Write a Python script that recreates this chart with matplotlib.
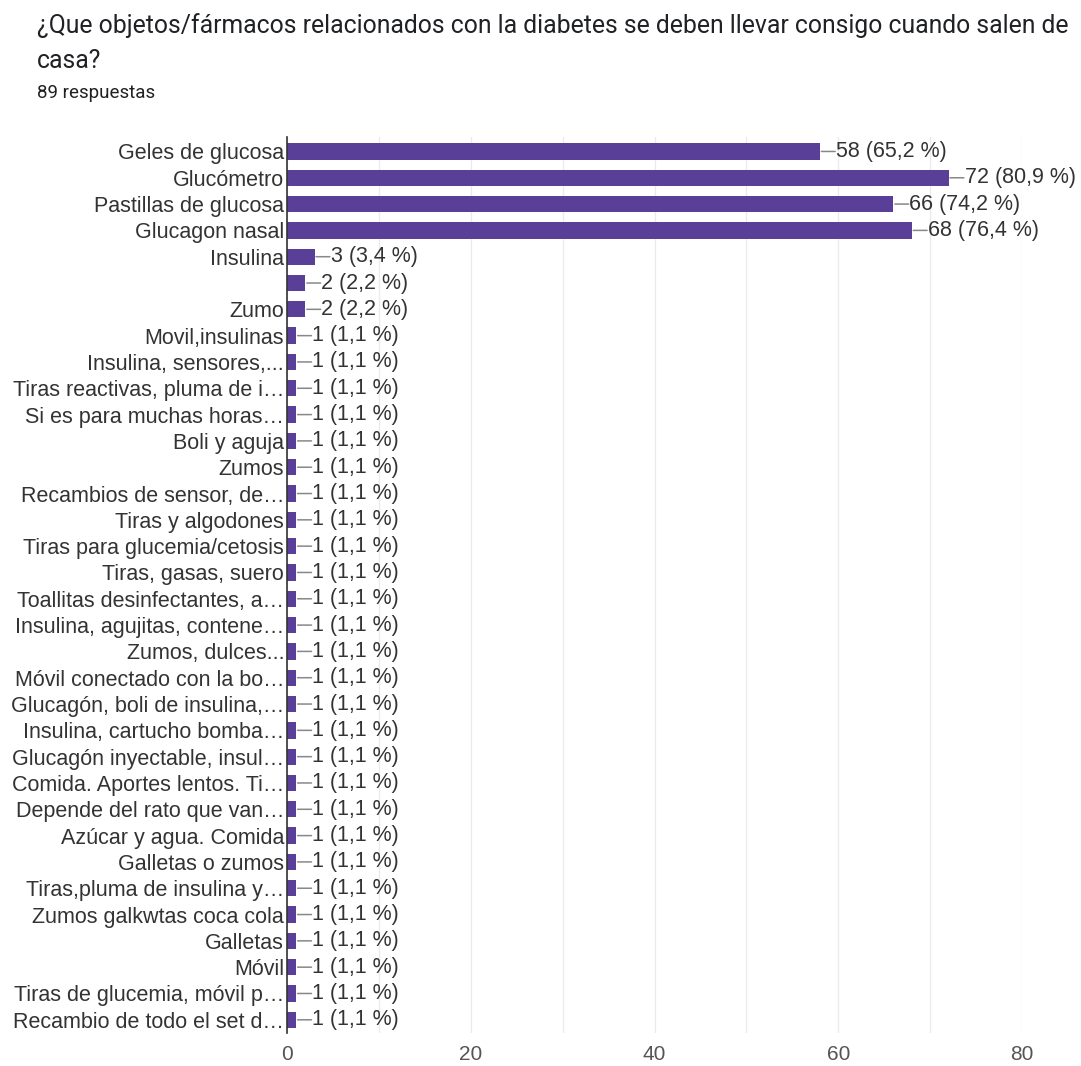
import matplotlib
matplotlib.use('Agg')
import matplotlib.pyplot as plt
import numpy as np

TITLE_LINES = ['¿Que objetos/fármacos relacionados con la diabetes se deben llevar consigo cuando salen de',
               'casa?']
SUBTITLE = '89 respuestas'
TOTAL = 89

categories = [
    'Geles de glucosa', 'Glucómetro', 'Pastillas de glucosa', 'Glucagon nasal',
    'Insulina', '', 'Zumo', 'Movil,insulinas', 'Insulina, sensores,...',
    'Tiras reactivas, pluma de i…', 'Si es para muchas horas…', 'Boli y aguja',
    'Zumos', 'Recambios de sensor, de…', 'Tiras y algodones',
    'Tiras para glucemia/cetosis', 'Tiras, gasas, suero',
    'Toallitas desinfectantes, a…', 'Insulina, agujitas, contene…',
    'Zumos, dulces...', 'Móvil conectado con la bo…',
    'Glucagón, boli de insulina,…', 'Insulina, cartucho bomba…',
    'Glucagón inyectable, insul…', 'Comida. Aportes lentos. Ti…',
    'Depende del rato que van…', 'Azúcar y agua. Comida', 'Galletas o zumos',
    'Tiras,pluma de insulina y…', 'Zumos galkwtas coca cola', 'Galletas',
    'Móvil', 'Tiras de glucemia, móvil p…', 'Recambio de todo el set d…',
]
counts = [58, 72, 66, 68, 3, 2, 2] + [1] * 27

BAR = '#5a3f99'
TEXT = '#333333'
FS = 15.5

fig = plt.figure(figsize=(10.81, 10.66), dpi=100)
ax = fig.add_axes([0.2655, 0.031, 0.680, 0.8405])

y = np.arange(len(categories))
ax.barh(y, counts, height=0.62, color=BAR, zorder=3)

# value labels with a short leader line
for yi, c in zip(y, counts):
    pct = f'{c / TOTAL * 100:.1f}'.replace('.', ',')
    ax.annotate('', xy=(c, yi), xytext=(11, 0), textcoords='offset points',
                xycoords='data',
                arrowprops=dict(arrowstyle='-', color='#888888', lw=1.1,
                                shrinkA=0, shrinkB=1))
    ax.annotate(f'{c} ({pct} %)', xy=(c, yi), xytext=(11.5, 0),
                textcoords='offset points', va='center', ha='left',
                fontsize=FS, color=TEXT, family='Liberation Sans')

ax.set_yticks(y)
ax.set_yticklabels(categories, fontsize=FS, color=TEXT, family='Liberation Sans')
ax.set_ylim(33.5, -0.55)
ax.set_xlim(0, 80)
ax.set_xticks([0, 20, 40, 60, 80])
ax.set_xticks([10, 30, 50, 70], minor=True)
ax.tick_params(axis='x', which='both', length=0, pad=9, labelsize=15,
               labelcolor='#555555')
ax.tick_params(axis='y', length=0, pad=2)
for lbl in ax.get_xticklabels():
    lbl.set_family('Liberation Sans')

ax.grid(axis='x', which='both', color='#ebebeb', lw=1, zorder=0)
ax.spines['left'].set_color('#333333')
ax.spines['left'].set_linewidth(1.2)
ax.spines['left'].set_zorder(4)
for s in ('top', 'bottom', 'right'):
    ax.spines[s].set_visible(False)

fig.text(0.034, 1 - 33 / 1066, TITLE_LINES[0], fontsize=17.8, color='#202124',
         family='Roboto', va='baseline', ha='left')
fig.text(0.034, 1 - 68 / 1066, TITLE_LINES[1], fontsize=17.8, color='#202124',
         family='Roboto', va='baseline', ha='left')
fig.text(0.034, 1 - 98 / 1066, SUBTITLE, fontsize=13.5, color='#202124',
         family='Roboto', va='baseline', ha='left')

fig.savefig('out.png', dpi=100, facecolor='white')
